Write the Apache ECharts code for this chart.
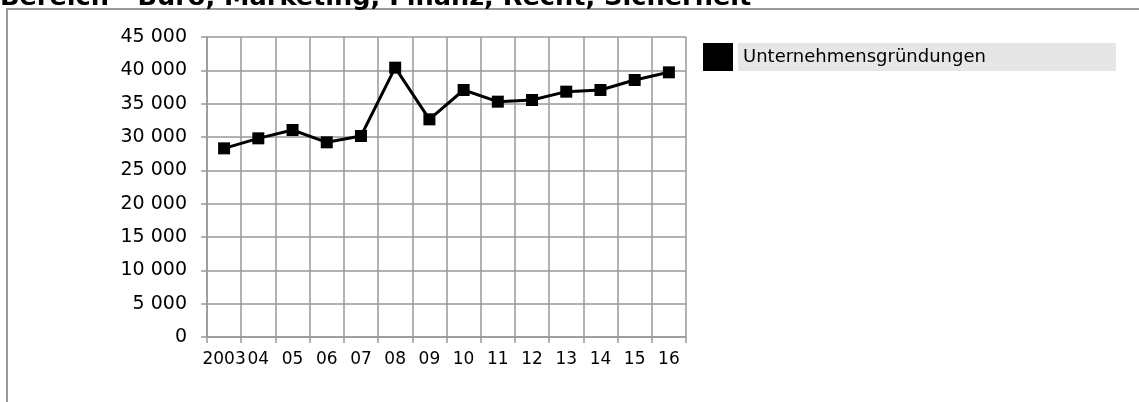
<!DOCTYPE html>
<html>
<head>
<meta charset="utf-8">
<script src="https://cdn.jsdelivr.net/npm/echarts@6/dist/echarts.min.js"></script>
<style>
html,body{margin:0;padding:0;background:#fff;}
#c{width:1139px;height:402px;}
</style>
</head>
<body>
<div id="c"></div>
<script>
const titleText = 'Bereich - Büro, Marketing, Finanz, Recht, Sicherheit';
const seriesName = 'Unternehmensgründungen';
const years = ['2003','04','05','06','07','08','09','10','11','12','13','14','15','16'];
const values = [28300, 29800, 31050, 29200, 30150, 40400, 32650, 37050, 35300, 35550, 36800, 37050, 38550, 39700];
const yMin = 0, yMax = 45000, yStep = 5000;

const chart = echarts.init(document.getElementById('c'), null, {renderer:'canvas'});
const fmt = v => {
  const s = String(v);
  return s.length > 3 ? s.slice(0, s.length-3) + ' ' + s.slice(-3) : s;
};
chart.setOption({
  animation: false,
  backgroundColor: '#fff',
  title: {
    text: titleText, left: 0, top: -15, padding: 0,
    textStyle: {fontFamily: 'DejaVu Sans', fontWeight: 'bold', fontSize: 25.6, color: '#000'}
  },
  graphic: [{
    type: 'rect', shape: {x: 7, y: 9, width: 1200, height: 500},
    style: {fill: 'none', stroke: '#9a9a9a', lineWidth: 2}, z: -1
  }],
  legend: {
    left: 703, top: 43, padding: 0,
    icon: 'rect', itemWidth: 30, itemHeight: 28,
    data: [seriesName],
    textStyle: {
      fontFamily: 'DejaVu Sans', fontSize: 18, color: '#000',
      backgroundColor: '#e6e6e6', width: 373, height: 28, lineHeight: 28,
      padding: [0, 0, 0, 5]
    }
  },
  grid: {left: 207, top: 37, right: 453, bottom: 65, containLabel: false},
  xAxis: {
    type: 'category', data: years, boundaryGap: true,
    axisLine: {lineStyle: {color: '#999', width: 1.5}},
    axisTick: {show: true, length: 6, lineStyle: {color: '#999', width: 1.5}, alignWithLabel: false},
    axisLabel: {color: '#000', fontFamily: 'DejaVu Sans', fontSize: 17, margin: 14, interval: 0},
    splitLine: {show: true, lineStyle: {color: '#999', width: 1.5}}
  },
  yAxis: {
    type: 'value', min: yMin, max: yMax, interval: yStep,
    axisLine: {show: true, lineStyle: {color: '#999', width: 1.5}},
    axisTick: {show: true, length: 6, lineStyle: {color: '#999', width: 1.5}},
    axisLabel: {color: '#000', fontFamily: 'DejaVu Sans', fontSize: 19, margin: 20, formatter: fmt},
    splitLine: {show: true, lineStyle: {color: '#999', width: 1.5}}
  },
  series: [{
    name: seriesName, type: 'line', data: values,
    symbol: 'rect', symbolSize: 12,
    lineStyle: {color: '#000', width: 3},
    itemStyle: {color: '#000'}
  }]
});
</script>
</body>
</html>
